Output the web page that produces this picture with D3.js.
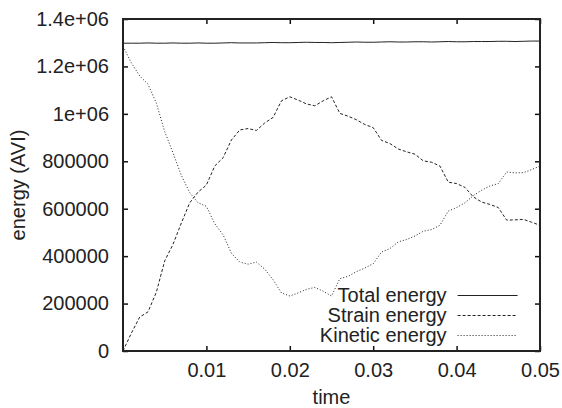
<!DOCTYPE html>
<html>
<head>
<meta charset="utf-8">
<script src="https://cdn.jsdelivr.net/npm/d3@7"></script>
<style>
  html, body { margin: 0; padding: 0; background: #fff; }
  svg { display: block; font-family: "Liberation Sans", Arial, sans-serif; }
</style>
</head>
<body>
<div id="chart"></div>
<script>
// time samples (s)
const times = d3.range(0, 51).map(i => +(i * 0.001).toFixed(3))

// energies (thousands)
const totalEnergy = [
  1298, 1298, 1298, 1299, 1298, 1298, 1299, 1298, 1298, 1299,
  1298, 1298, 1299, 1300, 1299, 1299, 1299, 1300, 1301, 1300,
  1300, 1301, 1302, 1301, 1301, 1300, 1301, 1302, 1303, 1302,
  1302, 1303, 1304, 1303, 1303, 1304, 1304, 1303, 1304, 1305,
  1304, 1304, 1305, 1305, 1305, 1306, 1306, 1305, 1306, 1307, 1307
]
const strainEnergy = [
  0, 75, 143, 165, 248, 380, 450, 540, 625, 670,
  700, 780, 815, 890, 932, 938, 930, 962, 985, 1055,
  1072, 1058, 1042, 1034, 1055, 1072, 1002, 990, 975, 955,
  942, 888, 875, 852, 840, 830, 802, 796, 780, 712,
  706, 690, 650, 628, 618, 605, 552, 553, 555, 543, 530
]
const kineticEnergy = [
  1285, 1215, 1160, 1125, 1045, 925, 835, 740, 668, 625,
  610, 537, 490, 412, 375, 366, 375, 345, 300, 245,
  232, 245, 260, 268, 252, 232, 305, 315, 335, 350,
  368, 417, 432, 460, 470, 485, 505, 512, 530, 590,
  605, 625, 655, 678, 696, 706, 755, 751, 752, 765, 780
]

const seriesNames = ['Total energy', 'Strain energy', 'Kinetic energy']
const yTicks = [0, 200000, 400000, 600000, 800000, 1000000, 1200000, 1400000]
const yTickLabels = ['0', '200000', '400000', '600000', '800000', '1e+06', '1.2e+06', '1.4e+06']
const xTicks = [0.01, 0.02, 0.03, 0.04, 0.05]
const xTickLabels = ['0.01', '0.02', '0.03', '0.04', '0.05']

const W = 562
const H = 408
const margin = { top: 19, right: 22, bottom: 57, left: 123 }
const width = W - margin.left - margin.right
const height = H - margin.top - margin.bottom

const svg = d3.select('#chart')
  .append('svg')
  .attr('width', W)
  .attr('height', H)

const g = svg.append('g')
  .attr('transform', `translate(${margin.left},${margin.top})`)

const x = d3.scaleLinear().domain([0, 0.05]).range([0, width])
const y = d3.scaleLinear().domain([0, 1400000]).range([height, 0])

const textColor = '#222'
const fontSize = 20

// Y axis (left, labels) and right mirror ticks
const yAxis = g.append('g')
  .call(d3.axisLeft(y).tickValues(yTicks).tickSizeInner(-5).tickSizeOuter(0).tickPadding(14)
    .tickFormat((d, i) => yTickLabels[i]))
yAxis.select('.domain').remove()
yAxis.selectAll('text').attr('font-size', fontSize).attr('fill', textColor)
  .attr('font-family', '"Liberation Sans", Arial, sans-serif')
yAxis.selectAll('line').attr('stroke', '#111').attr('stroke-width', 1.5)

const yAxisR = g.append('g')
  .attr('transform', `translate(${width},0)`)
  .call(d3.axisRight(y).tickValues(yTicks).tickSizeInner(-5).tickSizeOuter(0).tickFormat(''))
yAxisR.select('.domain').remove()
yAxisR.selectAll('line').attr('stroke', '#111').attr('stroke-width', 1.5)

// X axis (bottom, labels) and top mirror ticks
const xAxis = g.append('g')
  .attr('transform', `translate(0,${height})`)
  .call(d3.axisBottom(x).tickValues(xTicks).tickSizeInner(-5).tickSizeOuter(0).tickPadding(12)
    .tickFormat((d, i) => xTickLabels[i]))
xAxis.select('.domain').remove()
xAxis.selectAll('text').attr('font-size', fontSize).attr('fill', textColor)
  .attr('font-family', '"Liberation Sans", Arial, sans-serif')
xAxis.selectAll('line').attr('stroke', '#111').attr('stroke-width', 1.5)

const xAxisT = g.append('g')
  .call(d3.axisTop(x).tickValues(xTicks).tickSizeInner(-5).tickSizeOuter(0).tickFormat(''))
xAxisT.select('.domain').remove()
xAxisT.selectAll('line').attr('stroke', '#111').attr('stroke-width', 1.5)

// Lines
const line = vals => d3.line()
  .x((d, i) => x(times[i]))
  .y(d => y(d * 1000))(vals)

const styles = [
  { data: totalEnergy, dash: null },
  { data: strainEnergy, dash: '3,2' },
  { data: kineticEnergy, dash: '1,2' }
]

styles.forEach(s => {
  g.append('path')
    .attr('d', line(s.data))
    .attr('fill', 'none')
    .attr('stroke', '#222')
    .attr('stroke-width', 1)
    .attr('stroke-dasharray', s.dash)
})

// Frame
g.append('rect')
  .attr('width', width)
  .attr('height', height)
  .attr('fill', 'none')
  .attr('stroke', '#222')
  .attr('stroke-width', 2)

// Legend
const legend = g.append('g')
  .attr('transform', `translate(${x(0.0388)},${y(234000)})`)

seriesNames.forEach((name, i) => {
  const row = legend.append('g').attr('transform', `translate(0,${i * 20})`)
  row.append('text')
    .attr('x', 0)
    .attr('y', 6.5)
    .attr('text-anchor', 'end')
    .attr('font-size', fontSize)
    .attr('fill', textColor)
    .text(name)
  row.append('line')
    .attr('x1', 11)
    .attr('x2', 71)
    .attr('y1', 0)
    .attr('y2', 0)
    .attr('stroke', '#222')
    .attr('stroke-width', 1)
    .attr('stroke-dasharray', styles[i].dash)
})

// Axis titles
svg.append('text')
  .attr('x', margin.left + width / 2)
  .attr('y', 404)
  .attr('text-anchor', 'middle')
  .attr('font-size', fontSize)
  .attr('fill', textColor)
  .text('time')

svg.append('text')
  .attr('transform', `translate(25,${margin.top + height / 2}) rotate(-90)`)
  .attr('text-anchor', 'middle')
  .attr('font-size', fontSize)
  .attr('fill', textColor)
  .text('energy (AVI)')
</script>
</body>
</html>
